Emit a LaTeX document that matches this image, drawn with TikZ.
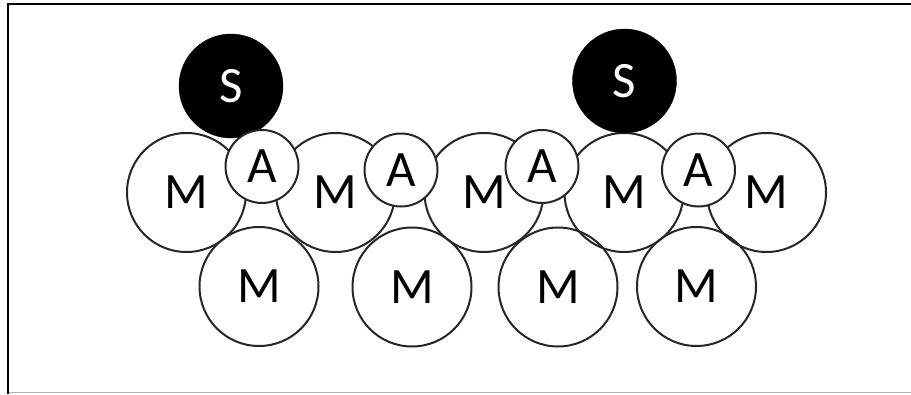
\documentclass[tikz,border=0pt]{standalone}
\usepackage{fontspec}
\setmainfont{Carlito}
\begin{document}
\begin{tikzpicture}[x=1pt,y=-1pt,
  mball/.style={circle,draw=black!85,line width=2pt,inner sep=0pt,minimum size=119pt,font=\fontsize{51}{51}\selectfont},
  aball/.style={circle,draw=black!85,fill=white,line width=2pt,inner sep=0pt,minimum size=73pt,font=\fontsize{51}{51}\selectfont},
  sball/.style={circle,draw=black,fill=black,text=white,inner sep=0pt,minimum size=104pt,font=\fontsize{51}{51}\selectfont}]
\useasboundingbox (0,0) rectangle (911,394);
\fill[white] (0,0) rectangle (911,394);
% frame
\draw[black!30,line width=1.5pt] (8,392.5) -- (911,392.5);
\draw[black,line width=2pt] (8,394) -- (8,3.5) -- (911,3.5);
% top row of M
\node[mball] (mt1) at (186.5,192.5) {M};
\node[mball] (mt2) at (335.5,192.5) {M};
\node[mball] (mt3) at (484,192.5) {M};
\node[mball] (mt4) at (624,192.5) {M};
\node[mball] (mt5) at (766.5,192.5) {M};
% bottom row of M
\node[mball] (mb1) at (259,286.5) {M};
\node[mball] (mb2) at (412,287) {M};
\node[mball] (mb3) at (558,287) {M};
\node[mball] (mb4) at (696.5,286.5) {M};
% S
\node[sball] (s1) at (231,86) {S};
\node[sball] (s2) at (624.5,81) {S};
% A
\node[aball] (a1) at (262,166.5) {A};
\node[aball] (a2) at (401,170) {A};
\node[aball] (a3) at (542,166.5) {A};
\node[aball] (a4) at (698.5,170) {A};
\end{tikzpicture}
\end{document}
